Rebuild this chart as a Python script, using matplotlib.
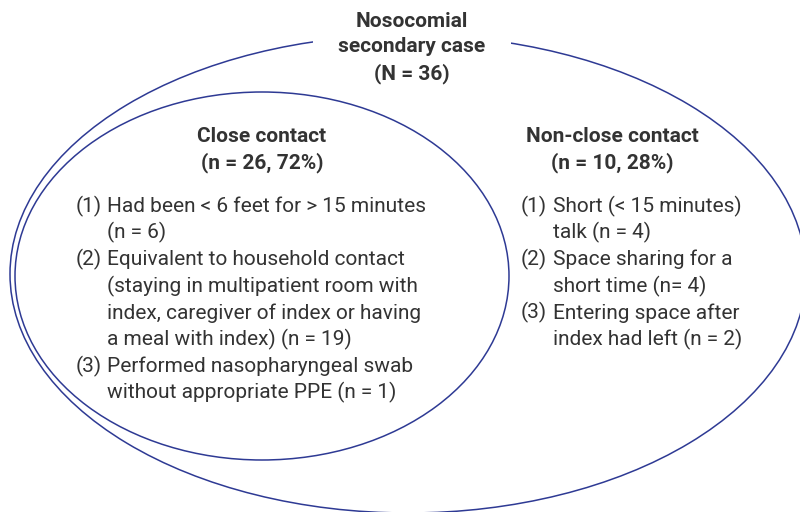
import matplotlib.pyplot as plt
from matplotlib.patches import Ellipse, Rectangle

# data
total_n = 36
close_n, close_pct = 26, 72
nonclose_n, nonclose_pct = 10, 28

close_items = [
    ["Had been < 6 feet for > 15 minutes", "(n = 6)"],
    ["Equivalent to household contact", "(staying in multipatient room with",
     "index, caregiver of index or having", "a meal with index) (n = 19)"],
    ["Performed nasopharyngeal swab", "without appropriate PPE (n = 1)"],
]
nonclose_items = [
    ["Short (< 15 minutes)", "talk (n = 4)"],
    ["Space sharing for a", "short time (n= 4)"],
    ["Entering space after", "index had left (n = 2)"],
]

navy = "#2e3a94"
txt = "#333333"
font = "Roboto"
fs = 15
line_h = 26.7

fig = plt.figure(figsize=(8, 5.12), dpi=100)
ax = fig.add_axes([0, 0, 1, 1])
ax.set_xlim(0, 800)
ax.set_ylim(512, 0)
ax.axis("off")

# outer and inner ellipses
ax.add_patch(Ellipse((408, 274), 796, 478, fill=False, ec=navy, lw=1.1))
ax.add_patch(Ellipse((262, 276), 494, 368, fill=False, ec=navy, lw=1.1))
# gap in the outer line behind the title
ax.add_patch(Rectangle((313, 25), 198, 45, fc="white", ec="none", zorder=2))

ax.text(412, 48, "Nosocomial\nsecondary case\n(N = %d)" % total_n, ha="center",
        va="center", fontsize=fs, fontweight="bold", color=txt, family=font,
        linespacing=1.42, zorder=3)

ax.text(262, 150, "Close contact\n(n = %d, %d%%)" % (close_n, close_pct),
        ha="center", va="center", fontsize=fs, fontweight="bold", color=txt,
        family=font, linespacing=1.42)
ax.text(612, 150, "Non-close contact\n(n = %d, %d%%)" % (nonclose_n, nonclose_pct),
        ha="center", va="center", fontsize=fs, fontweight="bold", color=txt,
        family=font, linespacing=1.42)


def draw_list(items, x_num, x_txt, y0):
    y = y0
    for i, lines in enumerate(items):
        ax.text(x_num, y, "(%d)" % (i + 1), ha="left", va="center",
                fontsize=fs, color=txt, family=font)
        for ln in lines:
            ax.text(x_txt, y, ln, ha="left", va="center", fontsize=fs,
                    color=txt, family=font)
            y += line_h


draw_list(close_items, 76, 107, 206)
draw_list(nonclose_items, 521, 553, 206)

fig.savefig("out.png", dpi=100)
